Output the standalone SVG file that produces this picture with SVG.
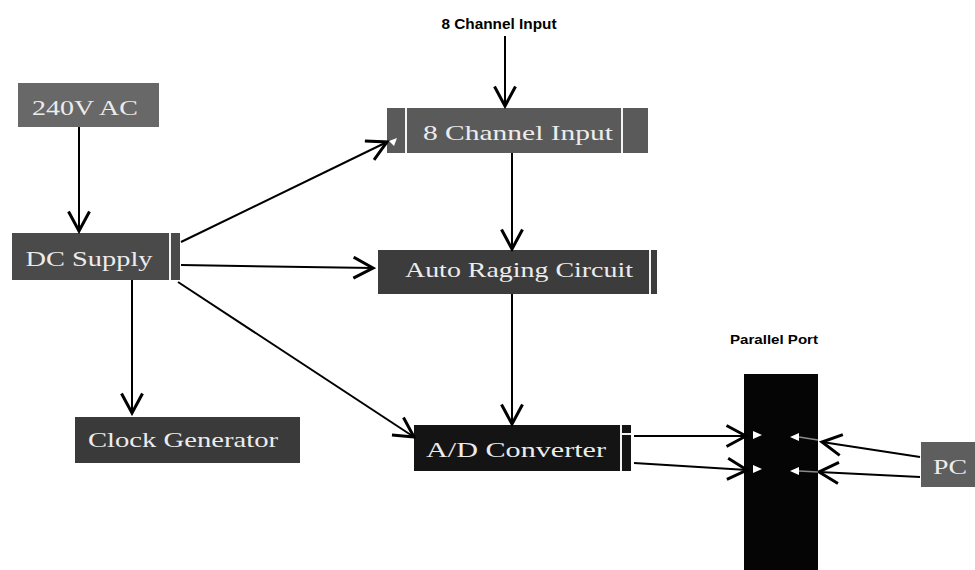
<svg xmlns="http://www.w3.org/2000/svg" width="975" height="570" viewBox="0 0 975 570">
<defs>
<marker id="arr" markerUnits="userSpaceOnUse" markerWidth="24" markerHeight="24" viewBox="-14 -8 16 16" refX="0" refY="0" orient="auto">
<path d="M-13,-7 L0,0 L-13,7" fill="none" stroke="#000" stroke-width="2"/>
</marker>
<style>
.box{stroke:none}
.t{font-family:"Liberation Serif","DejaVu Serif",serif;font-size:21px;fill:#ececec;text-anchor:middle}
.lbl{font-family:"Liberation Sans",Arial,sans-serif;font-weight:bold;fill:#000;text-anchor:middle}
.c{fill:none;stroke:#000;stroke-width:2;marker-end:url(#arr)}
.sep{stroke:#f4f4f4;stroke-width:2}
</style>
</defs>
<rect width="975" height="570" fill="#ffffff"/>

<g id="label-top">
<text class="lbl" x="499" y="29" font-size="14" textLength="115" lengthAdjust="spacingAndGlyphs">8 Channel Input</text>
</g>
<g id="label-port">
<text class="lbl" x="774" y="344" font-size="13" textLength="88" lengthAdjust="spacingAndGlyphs">Parallel Port</text>
</g>

<g id="ac">
<rect class="box" x="18" y="83" width="141" height="44" fill="#686868"/>
<text class="t" x="85" y="115" textLength="106" lengthAdjust="spacingAndGlyphs">240V AC</text>
</g>

<g id="dc">
<rect class="box" x="12" y="233" width="168" height="47" fill="#4a4a4a"/>
<line class="sep" x1="170" y1="233" x2="170" y2="280"/>
<text class="t" x="89" y="266" textLength="127" lengthAdjust="spacingAndGlyphs">DC Supply</text>
</g>

<g id="ch8">
<rect class="box" x="387" y="108" width="261" height="45" fill="#5a5a5a"/>
<line class="sep" x1="406" y1="108" x2="406" y2="153"/>
<line class="sep" x1="622" y1="108" x2="622" y2="153"/>
<text class="t" x="518" y="140" textLength="190" lengthAdjust="spacingAndGlyphs">8 Channel Input</text>
</g>

<g id="arc">
<rect class="box" x="378" y="250" width="279" height="44" fill="#3c3c3c"/>
<line class="sep" x1="650" y1="250" x2="650" y2="294"/>
<text class="t" x="519" y="277" textLength="228" lengthAdjust="spacingAndGlyphs">Auto Raging Circuit</text>
</g>

<g id="clock">
<rect class="box" x="75" y="417" width="225" height="46" fill="#3a3a3a"/>
<text class="t" x="183" y="447" textLength="190" lengthAdjust="spacingAndGlyphs">Clock Generator</text>
</g>

<g id="adc">
<rect class="box" x="414" y="425" width="217" height="46" fill="#141414"/>
<line class="sep" x1="621" y1="425" x2="621" y2="471"/>
<line class="sep" x1="621" y1="434" x2="631" y2="434"/>
<rect x="631" y="425" width="2" height="46" fill="#ffffff"/>
<text class="t" x="516" y="457" textLength="180" lengthAdjust="spacingAndGlyphs">A/D Converter</text>
</g>

<g id="port">
<rect class="box" x="744" y="374" width="74" height="196" fill="#050505"/>
</g>

<g id="pc">
<rect class="box" x="921" y="442" width="54" height="45" fill="#5e5e5e"/>
<text class="t" x="950" y="474" textLength="34" lengthAdjust="spacingAndGlyphs">PC</text>
</g>

<g id="connectors">
<line class="c" x1="505" y1="36" x2="505" y2="106"/>
<line class="c" x1="79" y1="127" x2="79" y2="231"/>
<line class="c" x1="181" y1="242" x2="387" y2="142"/>
<line class="c" x1="181" y1="265" x2="373" y2="268"/>
<line class="c" x1="178" y1="282" x2="414" y2="437"/>
<line class="c" x1="132" y1="280" x2="132" y2="413"/>
<line class="c" x1="512" y1="153" x2="512" y2="249"/>
<line class="c" x1="512" y1="294" x2="512" y2="424"/>
<line class="c" x1="634" y1="436" x2="746" y2="436"/>
<line class="c" x1="634" y1="463" x2="747" y2="470"/>
<line class="c" x1="920" y1="457" x2="822" y2="442"/>
<line class="c" x1="920" y1="477" x2="819" y2="472"/>
<g fill="#ffffff" stroke="none">
<path d="M389,141 L397,138 L394,146 Z"/>
<path d="M762,435 L753,431 L753,439 Z"/>
<path d="M762,469 L753,465 L753,473 Z"/>
<path d="M790,437 L799,433 L799,441 Z"/>
<path d="M790,471 L799,467 L799,475 Z"/>
</g>
<g stroke="#8a8a8a" stroke-width="1.5">
<line x1="799" y1="437" x2="818" y2="440"/>
<line x1="799" y1="471" x2="818" y2="472"/>
</g>
</g>
</svg>
